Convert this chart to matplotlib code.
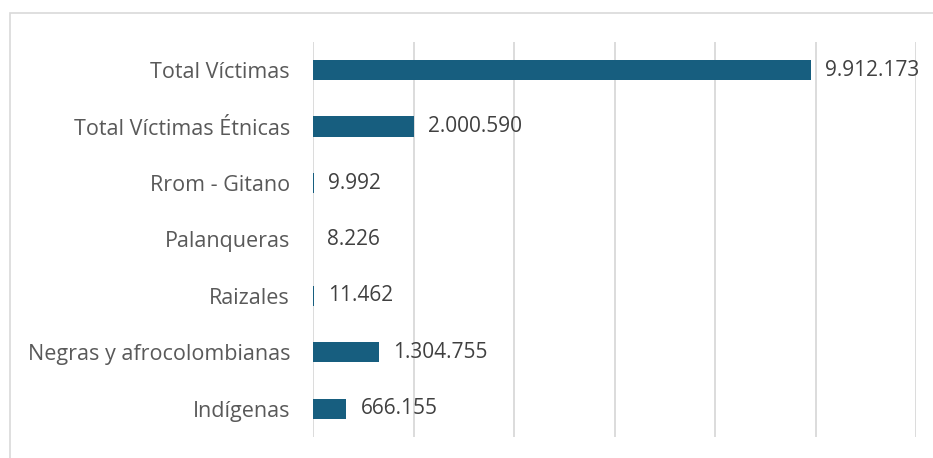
import matplotlib.pyplot as plt
from matplotlib.patches import Rectangle

categorias = ["Indígenas", "Negras y afrocolombianas", "Raizales", "Palanqueras",
              "Rrom - Gitano", "Total Víctimas Étnicas", "Total Víctimas"]
victimas = [666155, 1304755, 11462, 8226, 9992, 2000590, 9912173]

plt.rcParams['font.family'] = ['Open Sans', 'DejaVu Sans']

fig = plt.figure(figsize=(9.33, 4.58), dpi=100)
ax = fig.add_axes([0.3355, 0.0459, 0.6463, 0.8624])

# marco exterior del grafico (recortado a la derecha y abajo)
fig.patches.append(Rectangle((10 / 933, -0.05), 1.0, 1 - 13 / 458 + 0.05,
                             transform=fig.transFigure, fill=False,
                             edgecolor='#d9d9d9', linewidth=1.2))

ax.barh(range(len(categorias)), victimas, height=0.36, color='#175E7F',
        linewidth=0, zorder=3)

for i, v in enumerate(victimas):
    etiqueta = f"{v:,}".replace(",", ".")
    ax.annotate(etiqueta, (v, i), xytext=(14, 0), textcoords='offset pixels',
                va='center', ha='left', fontsize=15, color='#404040')

ax.set_xlim(0, 12000000)
ax.set_ylim(-0.5, 6.5)
ax.set_xticks(range(0, 12000001, 2000000))
ax.xaxis.grid(True, color='#d9d9d9', linewidth=1.3, zorder=0)
ax.tick_params(axis='x', bottom=False, labelbottom=False)
ax.tick_params(axis='y', left=False, pad=13, labelsize=15.5, labelcolor='#595959')
ax.set_yticks(range(len(categorias)))
ax.set_yticklabels(categorias)
for s in ['top', 'right', 'bottom', 'left']:
    ax.spines[s].set_visible(False)

fig.savefig('out.png', dpi=100)
